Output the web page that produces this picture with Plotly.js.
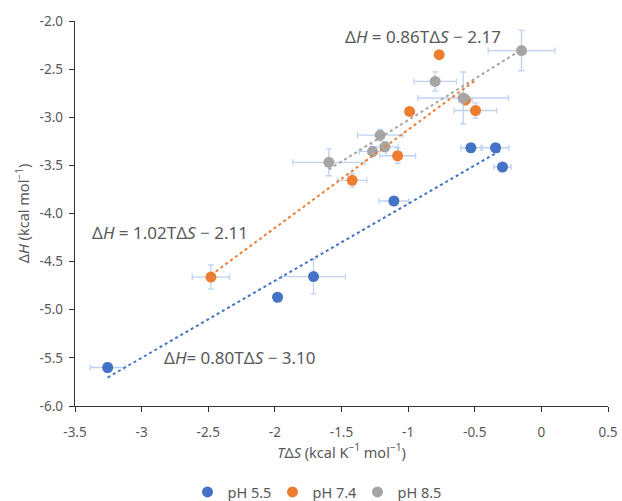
<!DOCTYPE html>
<html>
<head>
<meta charset="utf-8">
<script src="https://cdn.plot.ly/plotly-3.0.1.min.js"></script>
<style>html,body{margin:0;padding:0;background:#fff}#chart{width:622px;height:501px}</style>
</head>
<body>
<div id="chart"></div>
<script>
// pH 5.5
const x55 = [-3.255, -1.98, -1.71, -1.107, -0.529, -0.344, -0.292];
const y55 = [-5.60, -4.87, -4.655, -3.87, -3.317, -3.317, -3.517];
const ex55 = [0.13, 0.02, 0.24, 0.11, 0.075, 0.10, 0.065];
const ey55 = [0.05, 0.02, 0.18, 0.03, 0.03, 0.03, 0.03];
// pH 7.4
const x74 = [-2.48, -1.42, -1.079, -0.989, -0.767, -0.57, -0.494];
const y74 = [-4.66, -3.655, -3.40, -2.94, -2.35, -2.82, -2.93];
const ex74 = [0.14, 0.11, 0.135, 0.02, 0.02, 0.05, 0.16];
const ey74 = [0.125, 0.07, 0.08, 0.02, 0.02, 0.05, 0.08];
// pH 8.5
const x85 = [-1.595, -1.267, -1.21, -1.174, -0.797, -0.587, -0.149];
const y85 = [-3.468, -3.355, -3.186, -3.307, -2.628, -2.80, -2.307];
const ex85 = [0.27, 0.10, 0.17, 0.10, 0.16, 0.34, 0.25];
const ey85 = [0.14, 0.05, 0.06, 0.05, 0.10, 0.27, 0.21];

// trendline coefficients (slope, intercept) as labelled
const fit55 = [0.80, -3.10];
const fit74 = [1.02, -2.11];
const fit85 = [0.86, -2.17];

const xTicks = [-3.5, -3, -2.5, -2, -1.5, -1, -0.5, 0, 0.5];
const xTickText = ["-3.5", "-3", "-2.5", "-2", "-1.5", "-1", "-0.5", "0", "0.5"];
const yTicks = [-6, -5.5, -5, -4.5, -4, -3.5, -3, -2.5, -2];
const yTickText = ["-6.0", "-5.5", "-5.0", "-4.5", "-4.0", "-3.5", "-3.0", "-2.5", "-2.0"];

const names = ["pH 5.5", "pH 7.4", "pH 8.5"];
const colors = ["#4472C4", "#ED7D31", "#A5A5A5"];
const errColor = "rgba(170,195,235,0.75)";

function trend(xs, fit, color) {
  const xa = Math.min(...xs), xb = Math.max(...xs);
  return {
    x: [xa, xb], y: [fit[0] * xa + fit[1], fit[0] * xb + fit[1]],
    mode: "lines", type: "scatter", showlegend: false, hoverinfo: "skip",
    line: {color: color, width: 2, dash: "dot"}
  };
}
function series(xs, ys, exs, eys, name, color) {
  return {
    x: xs, y: ys, name: name, type: "scatter", mode: "markers",
    marker: {color: color, size: 11},
    error_x: {type: "data", array: exs, visible: true, color: errColor, thickness: 1.3, width: 3},
    error_y: {type: "data", array: eys, visible: true, color: errColor, thickness: 1.3, width: 3}
  };
}

const data = [
  series(x55, y55, ex55, ey55, names[0], colors[0]),
  series(x74, y74, ex74, ey74, names[1], colors[1]),
  series(x85, y85, ex85, ey85, names[2], colors[2]),
  trend(x55, fit55, colors[0]),
  trend(x74, fit74, colors[1]),
  trend(x85, fit85, colors[2])
];

const fam = "Noto Sans, Open Sans, sans-serif";
const grey = "#595959";
const annFont = {family: fam, size: 17, color: grey};

const layout = {
  width: 622, height: 501,
  margin: {l: 75, r: 14, t: 19, b: 95},
  paper_bgcolor: "#fff", plot_bgcolor: "#fff",
  font: {family: fam, size: 13, color: grey},
  showlegend: true,
  legend: {orientation: "h", xref: "container", yref: "container", x: 0.5064, xanchor: "center",
           y: 0.018, yanchor: "middle",
           font: {family: fam, size: 14.5, color: grey}, itemwidth: 30, entrywidth: 40,
           entrywidthmode: "pixels", tracegroupgap: 0},
  xaxis: {
    range: [-3.5, 0.5], tickvals: xTicks, ticktext: xTickText, automargin: false,
    showgrid: false, zeroline: false, showline: true, linecolor: "#333", linewidth: 1.3,
    ticks: "outside", ticklen: 5, tickcolor: "#333", tickfont: {family: fam, size: 13.5, color: grey},
    ticklabelstandoff: 8,
    title: {text: "<i>T</i>Δ<i>S</i> (kcal K<sup>−1</sup> mol<sup>−1</sup>)", font: {family: fam, size: 14.5, color: grey}, standoff: 6}
  },
  yaxis: {
    range: [-6, -2], tickvals: yTicks, ticktext: yTickText, automargin: true,
    showgrid: false, zeroline: false, showline: true, linecolor: "#333", linewidth: 1.3,
    ticks: "outside", ticklen: 5, tickcolor: "#333", tickfont: {family: fam, size: 13.5, color: grey},
    ticklabelstandoff: 3,
    title: {text: "Δ<i>H</i> (kcal mol<sup>−1</sup>)", font: {family: fam, size: 14.5, color: grey}, standoff: 6}
  },
  annotations: [
    {xref: "paper", yref: "paper", x: (423 - 75) / 533, y: 1 - (35 - 19) / 387, xanchor: "center", yanchor: "middle",
     text: "Δ<i>H</i> = 0.86TΔ<i>S</i> − 2.17", showarrow: false, font: annFont},
    {xref: "paper", yref: "paper", x: (170 - 75) / 533, y: 1 - (232 - 19) / 387, xanchor: "center", yanchor: "middle",
     text: "Δ<i>H</i> = 1.02TΔ<i>S</i> − 2.11", showarrow: false, font: annFont},
    {xref: "paper", yref: "paper", x: (240 - 75) / 533, y: 1 - (357 - 19) / 387, xanchor: "center", yanchor: "middle",
     text: "Δ<i>H</i>= 0.80TΔ<i>S</i> − 3.10", showarrow: false, font: annFont}
  ]
};

Plotly.newPlot("chart", data, layout, {displayModeBar: false, staticPlot: true});
</script>
</body>
</html>
